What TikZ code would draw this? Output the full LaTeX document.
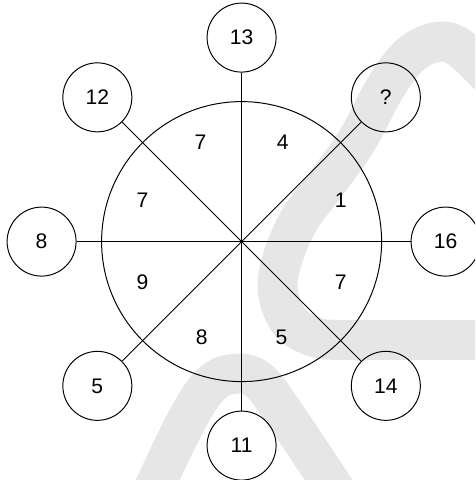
\documentclass[tikz,border=0pt]{standalone}
\usepackage{fontspec}
\setmainfont{Liberation Sans}
\usepackage{xcolor}
\definecolor{wmgray}{HTML}{E6E6E6}

\tikzset{
  ring/.style={draw,circle,minimum size=1.725cm,inner sep=0pt},
  digit/.style={font=\fontsize{15}{18}\selectfont}
}

\begin{document}
\begin{tikzpicture}[line width=0.7pt]
  \useasboundingbox (-6.04,-5.96) rectangle (5.84,6.04);
  \clip (-6.04,-5.96) rectangle (5.84,6.04);

  % Background mark
  \draw[wmgray,line width=1cm] plot[smooth,tension=0.6] coordinates {
    (6.34,3.99) (5.46,4.84) (4.89,4.99) (4.21,4.66) (3.59,3.84) (2.89,2.54)
    (2.09,1.41) (1.44,0.54) (1.01,-0.46) (0.91,-1.26) (1.21,-2.01)
    (1.84,-2.39) (2.71,-2.46) (6.34,-2.46)};
  \draw[wmgray,line width=1cm] plot[smooth,tension=0.6] coordinates {
    (-2.39,-6.59) (-1.41,-4.54) (-0.79,-3.59) (-0.21,-3.31) (0.41,-3.46)
    (1.09,-4.34) (2.59,-6.59)};

  % Big circle
  \coordinate (o) at (0,0);
  \draw (o) circle (3.5);

  % Outer circles
  \node[ring,digit] (n13) at ({5.1*cos(90)},{5.1*sin(90)}) {13};
  \node[ring,digit] (nq) at ({5.1*cos(45)},{5.1*sin(45)}) {?};
  \node[ring,digit] (n16) at ({5.1*cos(0)},{5.1*sin(0)}) {16};
  \node[ring,digit] (n14) at ({5.1*cos(-45)},{5.1*sin(-45)}) {14};
  \node[ring,digit] (n11) at ({5.1*cos(-90)},{5.1*sin(-90)}) {11};
  \node[ring,digit] (n5) at ({5.1*cos(-135)},{5.1*sin(-135)}) {5};
  \node[ring,digit] (n8) at ({5.0*cos(180)},{5.0*sin(180)}) {8};
  \node[ring,digit] (n12) at ({5.1*cos(135)},{5.1*sin(135)}) {12};

  % Spokes
  \draw (o) -- (n13);
  \draw (o) -- (nq);
  \draw (o) -- (n16);
  \draw (o) -- (n14);
  \draw (o) -- (n11);
  \draw (o) -- (n5);
  \draw (o) -- (n8);
  \draw (o) -- (n12);

  % Sector numbers
  \node[digit] (s1) at ({2.68*cos(22.5)},{2.68*sin(22.5)}) {1};
  \node[digit] (s4) at ({2.68*cos(67.5)},{2.68*sin(67.5)}) {4};
  \node[digit] (s7a) at ({2.68*cos(112.5)},{2.68*sin(112.5)}) {7};
  \node[digit] (s7b) at ({2.68*cos(157.5)},{2.68*sin(157.5)}) {7};
  \node[digit] (s9) at ({2.68*cos(202.5)},{2.68*sin(202.5)}) {9};
  \node[digit] (s8) at ({2.6*cos(247.5)},{2.6*sin(247.5)}) {8};
  \node[digit] (s5) at ({2.6*cos(292.5)},{2.6*sin(292.5)}) {5};
  \node[digit] (s7c) at ({2.68*cos(337.5)},{2.68*sin(337.5)}) {7};
\end{tikzpicture}
\end{document}
